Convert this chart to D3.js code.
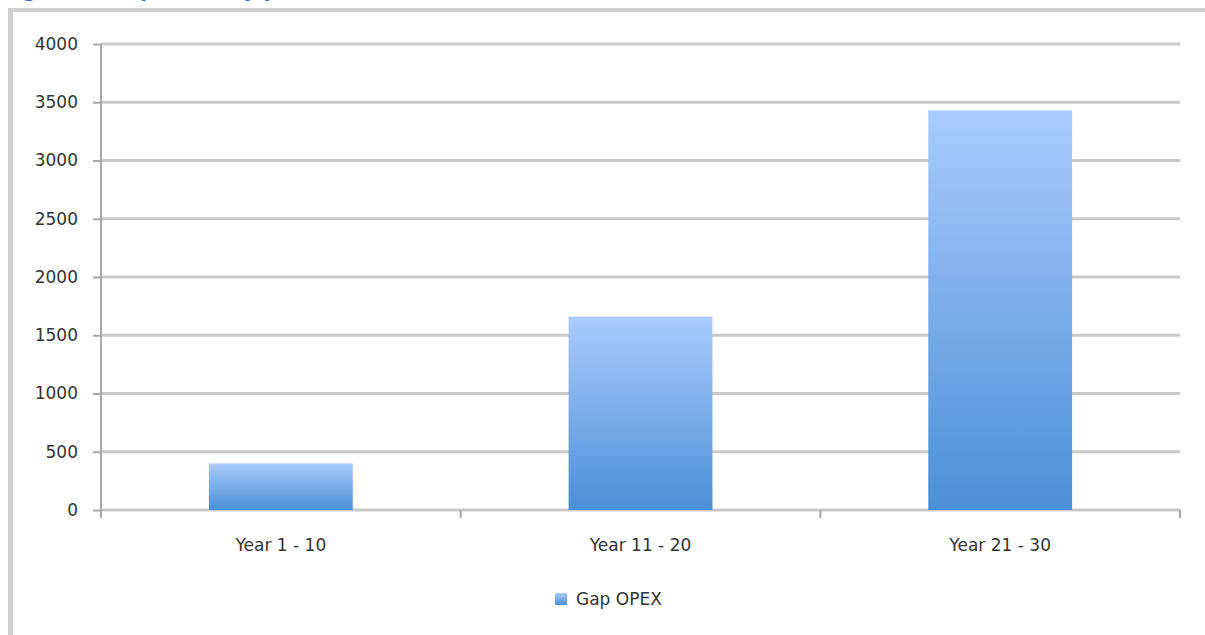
<!DOCTYPE html>
<html>
<head>
<meta charset="utf-8">
<script src="https://cdn.jsdelivr.net/npm/d3@7"></script>
<style>
  html, body { margin: 0; padding: 0; background: #fff; }
  svg { display: block; }
  text { font-family: "DejaVu Sans", "Noto Sans", sans-serif; fill: #333; }
</style>
</head>
<body>
<svg id="chart" width="1205" height="635"></svg>
<script>
// Gap OPEX per ten-year period
const categories = ["Year 1 - 10", "Year 11 - 20", "Year 21 - 30"];
const gapOpex = [400, 1660, 3430];
const yTicks = [0, 500, 1000, 1500, 2000, 2500, 3000, 3500, 4000];
const seriesName = "Gap OPEX";

const svg = d3.select("#chart");
const W = 1205, H = 635;
const plot = { left: 101, right: 1180, top: 44, bottom: 510 };
const fontSize = "17px";

// caption above the frame (only its lower edge falls inside the page)
svg.append("text")
  .attr("x", 2).attr("y", -3)
  .style("font-size", "20px").style("font-weight", "bold")
  .style("fill", "#2f6fbf")
  .text("Figure 4: Gap OPEX by period");

// outer frame
svg.append("rect").attr("x", 8).attr("y", 8).attr("width", 5).attr("height", H - 8).attr("fill", "#cfcfcf");
svg.append("rect").attr("x", 8).attr("y", 8).attr("width", W - 8).attr("height", 4).attr("fill", "#cfcfcf");

const x = d3.scaleBand().domain(categories).range([plot.left, plot.right]).paddingInner(0.6).paddingOuter(0.3);
const y = d3.scaleLinear().domain([0, 4000]).range([plot.bottom, plot.top]);

// gradient for the bars
const defs = svg.append("defs");
const grad = defs.append("linearGradient").attr("id", "barGrad")
  .attr("x1", 0).attr("y1", 0).attr("x2", 0).attr("y2", 1);
grad.append("stop").attr("offset", "0%").attr("stop-color", "#aacbfd");
grad.append("stop").attr("offset", "100%").attr("stop-color", "#4b8fd8");

// horizontal gridlines
svg.append("g").selectAll("line").data(yTicks).join("line")
  .attr("x1", plot.left).attr("x2", plot.right)
  .attr("y1", d => y(d)).attr("y2", d => y(d))
  .attr("stroke", "#c9c9c9").attr("stroke-width", 3);

// bars
svg.append("g").selectAll("rect").data(categories).join("rect")
  .attr("x", d => x(d))
  .attr("width", x.bandwidth())
  .attr("y", (d, i) => y(gapOpex[i]))
  .attr("height", (d, i) => y(0) - y(gapOpex[i]))
  .attr("fill", "url(#barGrad)");

// y axis
const yAxis = svg.append("g").attr("transform", `translate(${plot.left},0)`)
  .call(d3.axisLeft(y).tickValues(yTicks).tickSize(8).tickPadding(15).tickFormat(d3.format("d")));
yAxis.select(".domain").attr("stroke", "#a8a8a8").attr("stroke-width", 2).attr("d", `M0,${plot.top}V${plot.bottom}`);
yAxis.selectAll(".tick line").attr("stroke", "#a8a8a8").attr("stroke-width", 2);
yAxis.selectAll(".tick text").style("font-size", fontSize).style("fill", "#333")
  .style("font-family", "'DejaVu Sans', sans-serif");

// x axis: category boundary ticks
const bounds = [plot.left, ...categories.slice(1).map(c => x(c) - x.step() * x.paddingInner() / 2), plot.right];
svg.append("g").selectAll("line").data(bounds).join("line")
  .attr("x1", d => d).attr("x2", d => d)
  .attr("y1", plot.bottom).attr("y2", plot.bottom + 8)
  .attr("stroke", "#a8a8a8").attr("stroke-width", 2);
svg.append("g").selectAll("text").data(categories).join("text")
  .attr("x", d => x(d) + x.bandwidth() / 2)
  .attr("y", plot.bottom + 41)
  .attr("text-anchor", "middle")
  .style("font-size", fontSize)
  .text(d => d);

// legend
const lg = svg.append("g").attr("transform", "translate(555,593)");
lg.append("rect").attr("width", 12).attr("height", 12).attr("fill", "url(#barGrad)");
lg.append("text").attr("x", 21).attr("y", 12).style("font-size", fontSize).text(seriesName);
</script>
</body>
</html>
